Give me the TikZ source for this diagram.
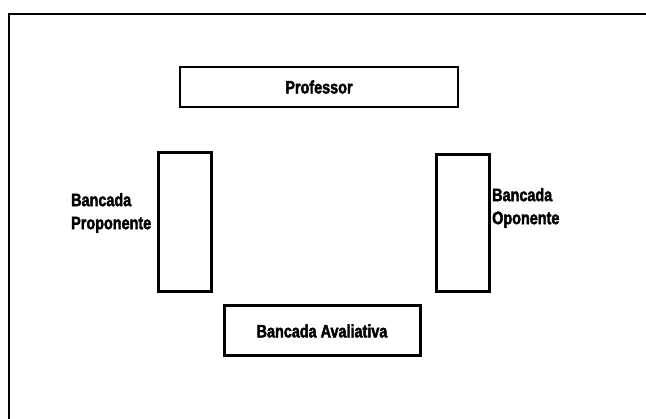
\documentclass[tikz,border=0pt]{standalone}
\usepackage{fontspec}
\setmainfont[FakeStretch=0.8,FakeBold=2.2]{Liberation Sans}
\begin{document}
\begin{tikzpicture}[x=1pt,y=1pt,
  txt/.style={font=\fontsize{18}{23}\selectfont\bfseries},
  lbl/.style={txt, inner sep=0pt, align=left, anchor=west},
  thinbox/.style={draw, line width=1.5pt, minimum width=278pt, minimum height=40pt, inner sep=0pt, txt},
  thickbox/.style={draw, line width=3pt, inner sep=0pt}]
\useasboundingbox (0,0) rectangle (646,-419);
\draw[line width=2.8pt] (9,-419) -- (9,-14) -- (646,-14);
\node[thinbox] (prof) at (319,-87) {Professor};
\node[thickbox, minimum width=53pt, minimum height=139pt] (left) at (184.5,-222.5) {};
\node[thickbox, minimum width=53pt, minimum height=137pt] (right) at (462.5,-223.5) {};
\node[thickbox, minimum width=196pt, minimum height=50pt, txt] (aval) at (322,-331) {Bancada Avaliativa};
\node[lbl] (lprop) at (71,-213) {Bancada\\Proponente};
\node[lbl] (lopo) at (492,-208) {Bancada\\Oponente};
\end{tikzpicture}
\end{document}
